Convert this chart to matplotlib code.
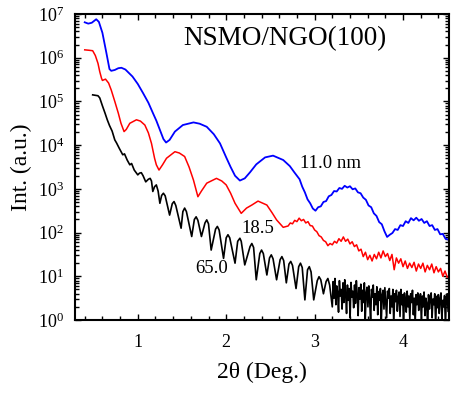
import numpy as np
import matplotlib
matplotlib.use("Agg")
import matplotlib.pyplot as plt
from matplotlib.ticker import MultipleLocator, LogLocator, FixedLocator, NullFormatter

plt.rcParams['font.family'] = ['Liberation Serif', 'DejaVu Serif']
plt.rcParams['mathtext.fontset'] = 'stix'

# ---------------- data (2theta in deg, log10 of intensity) ----------------
blue_x_head = [0.40, 0.44, 0.48, 0.53, 0.56, 0.60, 0.645, 0.68, 0.70, 0.74, 0.78, 0.815,
               0.86, 0.94, 1.00, 1.06, 1.12, 1.17, 1.21, 1.25, 1.29, 1.32, 1.36, 1.42,
               1.51, 1.63, 1.70, 1.78, 1.86, 1.93, 2.00, 2.05, 2.10, 2.155, 2.21, 2.27,
               2.34, 2.44, 2.53, 2.645, 2.72, 2.77]
blue_log_head = [6.81, 6.78, 6.80, 6.88, 6.82, 6.57, 6.11, 5.74, 5.70, 5.72, 5.76, 5.77,
                 5.73, 5.57, 5.40, 5.19, 4.97, 4.74, 4.56, 4.35, 4.14, 4.06, 4.12, 4.31,
                 4.46, 4.52, 4.49, 4.42, 4.25, 4.04, 3.72, 3.50, 3.30, 3.19, 3.24, 3.38,
                 3.56, 3.72, 3.76, 3.66, 3.52, 3.38]
blue_tail_range = (2.80, 4.51)
blue_log_tail = [3.30, 3.22, 3.05, 2.92, 2.76, 2.67, 2.55, 2.50, 2.58, 2.60, 2.70, 2.72,
                 2.83, 2.86, 2.95, 2.94, 3.02, 3.00, 3.07, 3.03, 3.06, 2.99, 3.01, 2.92,
                 2.90, 2.80, 2.75, 2.62, 2.58, 2.44, 2.38, 2.24, 2.19, 2.03, 1.90, 1.95,
                 1.99, 2.08, 2.06, 2.17, 2.15, 2.26, 2.22, 2.33, 2.28, 2.34, 2.27, 2.31,
                 2.22, 2.26, 2.15, 2.17, 2.06, 2.08, 1.96, 1.97, 1.86, 1.84]

red_x_head = [0.40, 0.45, 0.49, 0.52, 0.55, 0.57, 0.59, 0.60, 0.635, 0.67, 0.70, 0.74,
              0.78, 0.81, 0.845, 0.87, 0.91, 0.985, 1.03, 1.08, 1.12, 1.155, 1.19, 1.21,
              1.24, 1.28, 1.325, 1.42, 1.47, 1.53, 1.58, 1.63, 1.68, 1.72, 1.78, 1.89,
              1.95, 2.00, 2.05, 2.10, 2.17, 2.23, 2.29, 2.36, 2.46, 2.52, 2.57, 2.645,
              2.68]
red_log_head = [6.18, 6.17, 6.16, 6.05, 5.87, 5.68, 5.53, 5.48, 5.51, 5.42, 5.26, 5.00,
                4.73, 4.50, 4.31, 4.36, 4.50, 4.58, 4.55, 4.46, 4.28, 4.04, 3.70, 3.55,
                3.43, 3.55, 3.70, 3.85, 3.82, 3.74, 3.50, 3.20, 2.82, 2.95, 3.13, 3.24,
                3.18, 3.09, 2.90, 2.67, 2.44, 2.56, 2.63, 2.72, 2.63, 2.45, 2.29, 2.12,
                2.14]
red_tail_range = (2.70, 4.50)
red_log_tail = [2.15, 2.22, 2.20, 2.28, 2.25, 2.33, 2.27, 2.30, 2.22, 2.25, 2.16, 2.15,
                2.06, 2.02, 1.93, 1.90, 1.82, 1.79, 1.70, 1.75, 1.72, 1.80, 1.76, 1.86,
                1.80, 1.90, 1.80, 1.85, 1.74, 1.79, 1.68, 1.72, 1.58, 1.62, 1.45, 1.55,
                1.38, 1.48, 1.35, 1.50, 1.40, 1.55, 1.42, 1.58, 1.45, 1.52, 1.36, 1.50,
                1.15, 1.42, 1.30, 1.40, 1.22, 1.35, 1.18, 1.30, 1.20, 1.32, 1.12, 1.28,
                1.18, 1.30, 1.10, 1.25, 1.15, 1.28, 1.08, 1.22, 1.10, 1.18, 1.00, 1.12,
                0.98]

black_x_head = [0.49, 0.52, 0.55, 0.57, 0.60, 0.63, 0.655, 0.68, 0.71, 0.74, 0.76, 0.79,
                0.83, 0.85, 0.88, 0.91, 0.93, 0.96, 1.00, 1.02, 1.04, 1.06, 1.09, 1.12,
                1.14, 1.155, 1.17, 1.19, 1.21, 1.23, 1.25, 1.27, 1.29, 1.31, 1.36, 1.39,
                1.41, 1.43, 1.49, 1.51, 1.53, 1.55, 1.61, 1.64, 1.66, 1.68, 1.72, 1.76,
                1.78, 1.80, 1.83, 1.88, 1.90, 1.92, 1.97, 2.00, 2.02, 2.04, 2.10, 2.13,
                2.155, 2.17, 2.21, 2.27, 2.29, 2.31, 2.34, 2.38, 2.40, 2.42, 2.46, 2.49,
                2.51, 2.53, 2.57, 2.61, 2.63, 2.65, 2.68, 2.71, 2.73, 2.75, 2.79, 2.82,
                2.84, 2.86, 2.89, 2.92, 2.94, 2.96, 2.99, 3.03, 3.05, 3.07, 3.10, 3.13,
                3.15, 3.17]
black_log_head = [5.15, 5.14, 5.13, 5.08, 4.90, 4.73, 4.58, 4.45, 4.32, 4.12, 4.05, 3.93,
                  3.78, 3.80, 3.66, 3.55, 3.58, 3.43, 3.32, 3.36, 3.37, 3.30, 3.16, 3.22,
                  3.24, 3.18, 2.94, 3.05, 3.09, 2.95, 2.67, 2.85, 2.90, 2.84, 2.40, 2.66,
                  2.71, 2.62, 2.10, 2.48, 2.56, 2.48, 1.91, 2.30, 2.36, 2.28, 1.91, 2.22,
                  2.29, 2.20, 1.60, 2.08, 2.14, 2.06, 1.41, 1.88, 1.95, 1.88, 1.30, 1.80,
                  1.87, 1.80, 1.26, 1.68, 1.75, 1.66, 0.92, 1.52, 1.60, 1.52, 1.03, 1.42,
                  1.49, 1.40, 0.92, 1.38, 1.45, 1.36, 0.85, 1.28, 1.34, 1.25, 0.72, 1.22,
                  1.30, 1.20, 0.46, 1.15, 1.22, 1.10, 0.46, 0.90, 0.99, 0.92, 0.60, 0.88,
                  0.95, 0.80]
black_tail_range = (3.20, 4.51)
black_log_tail = [0.30, 0.88, 0.50, 0.95, 0.35, 0.78, 0.62, 0.18, 0.90, 0.55, 0.70, 0.25,
                  0.85, 0.40, 0.92, 0.60, 0.15, 0.80, 0.45, 0.72, 0.05, 0.86, 0.52, 0.66,
                  0.28, 0.80, 0.38, 0.90, 0.58, 0.10, 0.74, 0.48, 0.82, 0.20, 0.68, 0.40,
                  0.85, 0.00, 0.62, 0.75, 0.30, 0.78, 0.45, -0.08, 0.70, 0.52, 0.80, 0.22,
                  0.60, 0.35, 0.76, 0.12, 0.65, 0.45, 0.72, -0.05, 0.58, 0.68, 0.25, 0.74,
                  0.40, 0.05, 0.66, 0.50, 0.72, 0.15, 0.55, 0.30, 0.70, -0.12, 0.60, 0.42,
                  0.68, 0.20, 0.52, 0.64, 0.08, 0.70, 0.35, 0.58, -0.15, 0.62, 0.45, 0.18,
                  0.66, 0.30, 0.55, 0.02, 0.60, 0.40, 0.68, 0.12, 0.50, -0.10, 0.58, 0.35,
                  0.62, 0.22, 0.48, 0.60, -0.05, 0.55, 0.30, 0.64, 0.10, 0.50, 0.38, -0.20,
                  0.58, 0.25, 0.52, 0.62, 0.05, 0.48, 0.35, 0.60, -0.12, 0.54, 0.28, 0.58,
                  0.15, 0.50, 0.62, 0.00, 0.45, 0.30, 0.56, -0.15, 0.52, 0.60, 0.20]

labels = ["11.0 nm", "18.5", "65.0"]
title_text = "NSMO/NGO(100)"


def build(x_head, log_head, tail_range, log_tail):
    x_tail = np.linspace(tail_range[0], tail_range[1], len(log_tail))
    x = np.concatenate([x_head, x_tail])
    y = 10.0 ** np.concatenate([log_head, log_tail])
    return x, y


bx, by = build(blue_x_head, blue_log_head, blue_tail_range, blue_log_tail)
rx, ry = build(red_x_head, red_log_head, red_tail_range, red_log_tail)
kx, ky = build(black_x_head, black_log_head, black_tail_range, black_log_tail)

fig = plt.figure(figsize=(4.67, 3.98), dpi=100)
ax = fig.add_axes([75 / 467, 1 - 320 / 398, 374 / 467, 306 / 398])

ax.plot(kx, ky, color='black', lw=1.2)
ax.plot(rx, ry, color='#ff0000', lw=1.1)
ax.plot(bx, by, color='#0000ff', lw=1.3)

ax.set_yscale('log')
ax.set_xlim(0.29, 4.52)
ax.set_ylim(1, 1e7)

ax.xaxis.set_major_locator(FixedLocator([1, 2, 3, 4]))
ax.xaxis.set_minor_locator(MultipleLocator(0.2))
ax.yaxis.set_major_locator(LogLocator(base=10, numticks=20))
ax.yaxis.set_minor_locator(LogLocator(base=10, subs=np.arange(2, 10), numticks=20))
ax.yaxis.set_minor_formatter(NullFormatter())

ax.tick_params(which='both', direction='in', top=True, right=True, width=1.0)
ax.tick_params(which='major', length=4)
ax.tick_params(which='minor', length=3)
ax.tick_params(axis='x', labelsize=13, pad=10)
ax.tick_params(axis='y', labelsize=13, pad=8)
for sp in ax.spines.values():
    sp.set_linewidth(1.5)

ax.set_xlabel("2θ (Deg.)", fontsize=17, labelpad=8)
ax.set_ylabel("Int. (a.u.)", fontsize=17, labelpad=4)

ax.text(2.66, 10 ** 6.43, title_text, fontsize=19.5, ha='center', va='center')
ax.text(2.83, 10 ** 3.58, labels[0], fontsize=13.5, ha='left', va='center')
ax.text(2.17, 10 ** 2.10, labels[1], fontsize=13.5, ha='left', va='center')
ax.text(1.645, 10 ** 1.18, labels[2], fontsize=13.5, ha='left', va='center')

fig.savefig("out.png", dpi=100)
